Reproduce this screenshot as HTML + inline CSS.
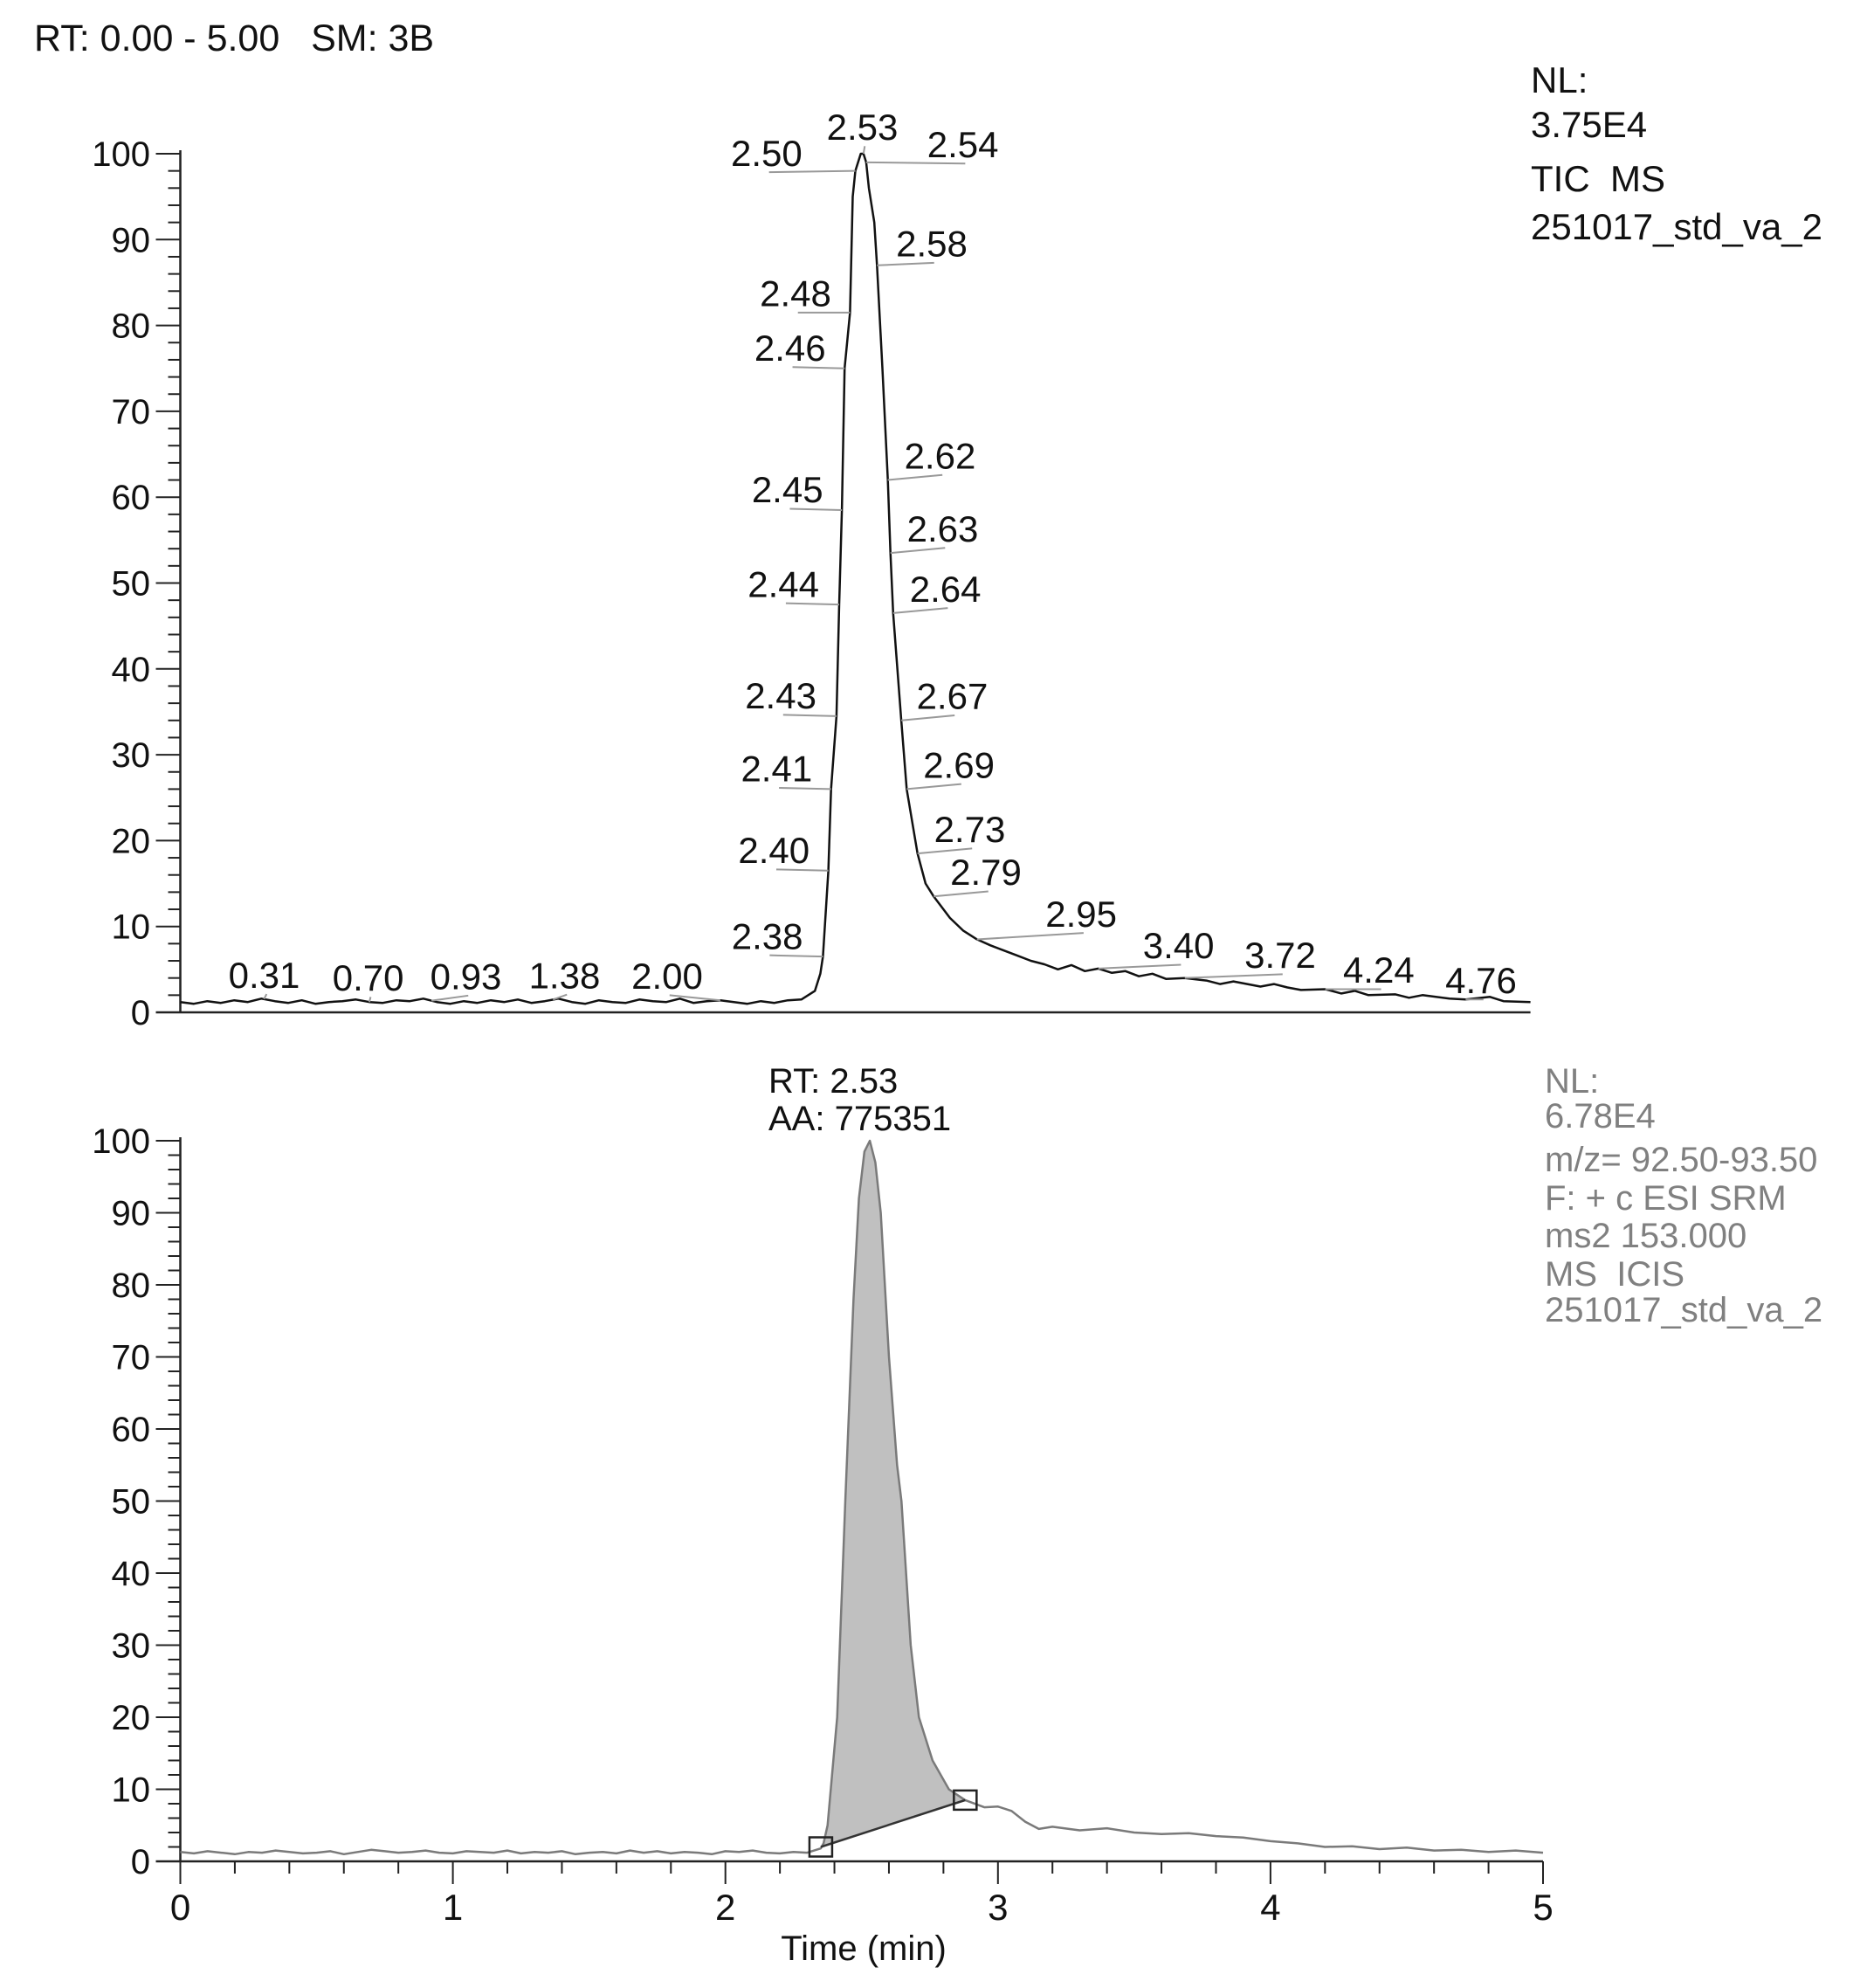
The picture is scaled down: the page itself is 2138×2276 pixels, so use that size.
<!DOCTYPE html>
<html><head><meta charset="utf-8"><style>
html,body{margin:0;padding:0;background:#fff}
svg{display:block}
text{white-space:pre}
.t{font-family:"Liberation Sans",sans-serif;fill:#111}
.n{font-family:"Liberation Sans Narrow","Liberation Sans",sans-serif;fill:#111}
</style></head><body>
<svg id="c" width="2138" height="2276" viewBox="0 0 2138 2276" xmlns="http://www.w3.org/2000/svg" xml:space="preserve">
<text class="t" x="39" y="58" font-size="43">RT: 0.00 - 5.00   SM: 3B</text>
<g class="t" font-size="42">
<text x="1753" y="106">NL:</text><text x="1753" y="157">3.75E4</text>
<text x="1753" y="219">TIC  MS</text><text x="1753" y="274">251017_std_va_2</text></g>
<g class="n" font-size="40" style="fill:#808080">
<text x="1769" y="1251" style="fill:#808080">NL:</text><text x="1769" y="1291" style="fill:#808080">6.78E4</text>
<text x="1769" y="1341" style="fill:#808080">m/z= 92.50-93.50</text><text x="1769" y="1385" style="fill:#808080">F: + c ESI SRM</text>
<text x="1769" y="1428" style="fill:#808080">ms2 153.000</text><text x="1769" y="1472" style="fill:#808080">MS  ICIS</text>
<text x="1769" y="1513" style="fill:#808080">251017_std_va_2</text></g>
<text class="n" x="880" y="1251" font-size="40">RT: 2.53</text>
<text class="n" x="880" y="1294" font-size="40">AA: 775351</text>
<text class="n" x="989" y="2244" font-size="40" text-anchor="middle">Time (min)</text>
<g id="g"></g>
</svg>
<script>
// ---- data ----
const baseTimes=[0,0.05,0.1,0.15,0.2,0.25,0.3,0.35,0.4,0.45,0.5,0.55,0.6,0.65,0.7,0.75,0.8,0.85,0.9,0.95,1.0,1.05,1.1,1.15,1.2,1.25,1.3,1.35,1.4,1.45,1.5,1.55,1.6,1.65,1.7,1.75,1.8,1.85,1.9,1.95,2.0,2.05,2.1,2.15,2.2,2.25,2.3];
const topBase=[1.2,1.0,1.3,1.1,1.4,1.2,1.6,1.3,1.1,1.4,1.0,1.2,1.3,1.5,1.2,1.1,1.4,1.3,1.6,1.2,1.0,1.3,1.1,1.4,1.2,1.5,1.1,1.3,1.6,1.2,1.0,1.4,1.2,1.1,1.5,1.3,1.2,1.6,1.1,1.3,1.4,1.2,1.0,1.3,1.1,1.4,1.5];
const topPeakT=[2.35,2.37,2.38,2.40,2.41,2.43,2.44,2.45,2.46,2.48,2.49,2.50,2.52,2.53,2.54,2.55,2.57,2.58,2.60,2.62,2.63,2.64,2.67,2.69,2.73,2.76,2.79,2.85,2.90,2.95,3.0,3.05,3.1,3.15,3.2,3.25,3.3,3.35,3.4,3.45,3.5,3.55,3.6,3.65,3.72,3.8,3.85,3.9,4.0,4.05,4.1,4.15,4.24,4.3,4.35,4.4,4.5,4.55,4.6,4.7,4.76,4.85,4.9,5.0];
const topPeakV=[2.5,4.5,6.5,16.5,26,34.5,47.5,58.5,75,81.5,95,98,100,100,99,96,92,87,75,62,53.5,46.5,34,26,18.5,15,13.5,11,9.5,8.5,7.8,7.2,6.6,6.0,5.6,5.0,5.5,4.8,5.1,4.6,4.8,4.2,4.5,3.9,4.0,3.7,3.3,3.6,3.0,3.3,2.9,2.6,2.7,2.2,2.5,2.0,2.1,1.7,2.0,1.6,1.5,1.8,1.3,1.2];
const botBase=[1.3,1.1,1.4,1.2,1.0,1.3,1.2,1.5,1.3,1.1,1.2,1.4,1.0,1.3,1.6,1.4,1.2,1.3,1.5,1.2,1.1,1.4,1.3,1.2,1.5,1.1,1.3,1.2,1.4,1.0,1.2,1.3,1.1,1.5,1.2,1.4,1.1,1.3,1.2,1.0,1.4,1.3,1.5,1.2,1.1,1.3,1.2];
const botPeakT=[2.35,2.36,2.375,2.41,2.44,2.47,2.49,2.51,2.53,2.55,2.57,2.60,2.63,2.646,2.68,2.71,2.76,2.82,2.88,2.95,3.0,3.05,3.1,3.15,3.2,3.3,3.4,3.5,3.6,3.7,3.8,3.9,4.0,4.1,4.2,4.3,4.4,4.5,4.6,4.7,4.8,4.9,5.0];
const botPeakV=[1.8,2.5,5,20,50,78,92,98.5,100,97,90,70,55,50,30,20,14,10,8.5,7.5,7.6,7,5.5,4.5,4.8,4.3,4.6,4.0,3.8,3.9,3.5,3.3,2.8,2.5,2.0,2.1,1.7,1.9,1.5,1.6,1.3,1.5,1.2];
const peakLabels=[0.31,0.70,0.93,1.38,2.00,2.38,2.40,2.41,2.43,2.44,2.45,2.46,2.48,2.50,2.53,2.54,2.58,2.62,2.63,2.64,2.67,2.69,2.73,2.79,2.95,3.40,3.72,4.24,4.76];
const labelDx=[-28,-29,-1,-19,-70,-72,-71,-71,-72,-72,-71,-71,-71,-98,-29,48,15,13,13,13,12,13,13,13,54,35,47,14,-16];
const labelDy=[-9,-9,-9,-9,-9,-6,-6,-6,-6,-6,-6,-6,-5,-4,-11,-4,-7,-9,-9,-9,-9,-9,-9,-9,-10,-8,-8,-5,-5];
const yTicks=[0,10,20,30,40,50,60,70,80,90,100];
const xTicks=[0,1,2,3,4,5];
const intStart=[2.35,2.0], intEnd=[2.88,8.5];
// ---- layout ----
const K=1.4544;
const T={x0:206.5,x1:1752.6,y0:1159,y1:176};
const B={x0:206.5,x1:1767,y0:2131,y1:1306};
const sx=(p,t)=>p.x0+(p.x1-p.x0)*t/5, sy=(p,v)=>p.y0-(p.y0-p.y1)*v/100;
const NS='http://www.w3.org/2000/svg', G=document.getElementById('g');
function mk(tag,at,parent){const e=document.createElementNS(NS,tag);for(const k in at)e.setAttribute(k,at[k]);(parent||G).appendChild(e);return e;}
function series(bv,pt,pv){const t=baseTimes.concat(pt),v=bv.concat(pv);return t.map((x,i)=>[x,v[i]]);}
const topS=series(topBase,topPeakT,topPeakV), botS=series(botBase,botPeakT,botPeakV);
function interp(s,t){for(let i=1;i<s.length;i++){if(s[i][0]>=t){const a=s[i-1],b=s[i];return a[1]+(b[1]-a[1])*(t-a[0])/(b[0]-a[0]);}}return s[s.length-1][1];}
function pathD(p,s){return s.map((d,i)=>(i?'L':'M')+sx(p,d[0]).toFixed(1)+' '+sy(p,d[1]).toFixed(1)).join(' ');}
function axes(p,cls,name,ticksX){
  let e=mk('line',{x1:p.x0,y1:p.y1-4,x2:p.x0,y2:p.y0,stroke:'#222','stroke-width':2.5});
  
  e=mk('line',{x1:p.x0-28,y1:p.y0,x2:p.x1,y2:p.y0,stroke:'#222','stroke-width':2.5});
  
  for(let v=0;v<=100;v+=2){const y=sy(p,v),maj=v%10===0;
    const l=mk('line',{x1:p.x0-(maj?28:14),y1:y,x2:p.x0,y2:y,stroke:'#222','stroke-width':2});
    }
  yTicks.forEach(v=>{const tx=mk('text',{x:172,y:sy(p,v)+14,'font-size':40,'text-anchor':'end',class:cls});tx.textContent=v;
    });
  if(ticksX){
    for(let t=0;t<=5.001;t+=0.2){const x=sx(p,t),maj=Math.abs(t-Math.round(t))<0.01;
      const l=mk('line',{x1:x,y1:p.y0,x2:x,y2:p.y0+(maj?26:14),stroke:'#222','stroke-width':2});
      }
    xTicks.forEach(t=>{const tx=mk('text',{x:sx(p,t),y:2198,'font-size':42,'text-anchor':'middle',class:cls});tx.textContent=t;
      });
  }
}
// bottom integrated area
const inside=botS.filter(d=>d[0]>intStart[0]&&d[0]<intEnd[0]);
let fd='M'+sx(B,intStart[0])+' '+sy(B,intStart[1]);
inside.forEach(d=>fd+=' L'+sx(B,d[0]).toFixed(1)+' '+sy(B,d[1]).toFixed(1));
fd+=' L'+sx(B,intEnd[0])+' '+sy(B,intEnd[1])+' Z';
let f=mk('path',{d:fd,fill:'#c0c0c0',stroke:'none'});

axes(T,'t','top',false);
axes(B,'n','bottom',true);
let c1=mk('path',{d:pathD(T,topS),fill:'none',stroke:'#111','stroke-width':2.5,'stroke-linejoin':'round'});

let c2=mk('path',{d:pathD(B,botS),fill:'none',stroke:'#7a7a7a','stroke-width':2.5,'stroke-linejoin':'round'});

let bl=mk('line',{x1:sx(B,intStart[0]),y1:sy(B,intStart[1]),x2:sx(B,intEnd[0]),y2:sy(B,intEnd[1]),stroke:'#333','stroke-width':2.5});

[intStart,intEnd].forEach(pt=>{const r=mk('rect',{x:sx(B,pt[0])-13,y:sy(B,pt[1])-11,width:26,height:22,fill:'none',stroke:'#222','stroke-width':2.5});
  });
// peak labels
peakLabels.forEach((t,i)=>{const px=sx(T,t),py=sy(T,interp(topS,t));
  const tx0=px+labelDx[i]*K, by=py+labelDy[i]*K;
  const ln=mk('line',{x1:px,y1:py,x2:tx0+30*K,y2:by+5*K,stroke:'#999','stroke-width':2});
  
  const tx=mk('text',{x:tx0,y:by,'font-size':42,class:'t'});tx.textContent=t.toFixed(2);
  });
</script>
</body></html>
